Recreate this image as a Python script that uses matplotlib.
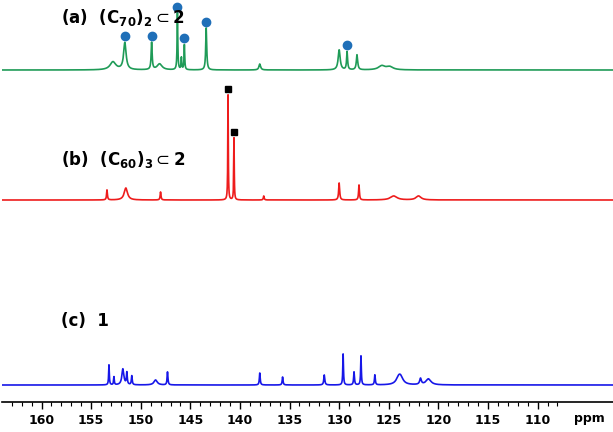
import matplotlib.pyplot as plt
import numpy as np

# peak lists: (ppm, height in px, half width in ppm)
green_ppm = [152.8, 151.6, 148.9, 148.1, 146.3, 145.9, 145.6, 143.4, 138.0, 130.0, 129.2, 128.2, 125.7, 124.9]
green_h = [8, 27, 27, 6, 57, 12, 25, 42, 6, 20, 18, 15, 4, 3]
green_w = [0.35, 0.15, 0.06, 0.3, 0.04, 0.04, 0.04, 0.06, 0.1, 0.12, 0.06, 0.08, 0.4, 0.4]
green_marked = [151.6, 148.9, 146.3, 145.6, 143.4, 129.2]

red_ppm = [153.4, 151.5, 148.0, 141.2, 140.6, 137.6, 130.0, 128.0, 124.5, 122.0]
red_h = [10, 12, 8, 105, 62, 4, 17, 15, 4, 4]
red_w = [0.05, 0.2, 0.05, 0.03, 0.03, 0.05, 0.06, 0.05, 0.4, 0.3]
red_marked = [141.2, 140.6]

blue_ppm = [153.2, 152.7, 151.8, 151.4, 150.9, 148.5, 147.3, 138.0, 135.7,
            131.5, 129.6, 128.5, 127.8, 126.4, 124.0, 123.8, 121.8, 121.0]
blue_h = [20, 8, 16, 12, 9, 5, 13, 12, 8, 10, 31, 13, 29, 10, 6, 6, 6, 6]
blue_w = [0.04, 0.04, 0.12, 0.05, 0.05, 0.2, 0.05, 0.05, 0.05,
          0.06, 0.04, 0.05, 0.04, 0.05, 0.3, 0.3, 0.1, 0.3]

tick_ppm = [160, 155, 150, 145, 140, 135, 130, 125, 120, 115, 110]

# baselines (px above axis line)
base_a, base_b, base_c = 332, 202, 17

x = np.arange(102.0, 164.2, 0.005)


def spectrum(ppm, h, w, base):
    y = np.full_like(x, float(base))
    for p, hh, ww in zip(ppm, h, w):
        y += hh / (1 + ((x - p) / ww) ** 2)
    return y


def peak_top(ppm, h, w, base, p):
    return spectrum(ppm, h, w, base)[np.argmin(np.abs(x - p))]


fig = plt.figure(figsize=(6.13, 4.32), dpi=100)
ax = fig.add_axes([0.003, 1 - 402 / 432, 0.997, 402 / 432])

ax.plot(x, spectrum(green_ppm, green_h, green_w, base_a), color="#1f9b57", lw=1.2)
ax.plot(x, spectrum(red_ppm, red_h, red_w, base_b), color="#ee1c1c", lw=1.2)
ax.plot(x, spectrum(blue_ppm, blue_h, blue_w, base_c), color="#1717e8", lw=1.2)

for p in green_marked:
    ax.plot(p, peak_top(green_ppm, green_h, green_w, base_a, p) + 6, "o",
            color="#1f6fb8", ms=6, clip_on=False)
for p in red_marked:
    ax.plot(p, peak_top(red_ppm, red_h, red_w, base_b, p) + 6, "s",
            color="black", ms=5)

tf = dict(fontsize=12, fontweight="bold", fontfamily="DejaVu Sans")
ax.text(158.0, 385, r"(a)  (C$_{\mathbf{70}}$)$_{\mathbf{2}}$$\subset$2", va="center", **tf)
ax.text(158.0, 242, r"(b)  (C$_{\mathbf{60}}$)$_{\mathbf{3}}$$\subset$2", va="center", **tf)
ax.text(158.0, 81, "(c)  1", va="center", **tf)

ax.set_xlim(164.0, 102.4)
ax.set_ylim(0, 402)
ax.set_xticks(tick_ppm)
ax.set_xticklabels([str(t) for t in tick_ppm], fontsize=9, fontweight="bold")
ax.set_xticks(np.arange(108, 164, 1), minor=True)
ax.tick_params(axis="x", which="major", length=5, width=1)
ax.tick_params(axis="x", which="minor", length=3, width=0.8)
ax.set_yticks([])
for s in ("left", "right", "top"):
    ax.spines[s].set_visible(False)
ax.spines["bottom"].set_linewidth(1.2)
ax.text(104.8, -10, "ppm", ha="center", va="top", fontsize=9, fontweight="bold")

fig.savefig("out.png", dpi=100)
